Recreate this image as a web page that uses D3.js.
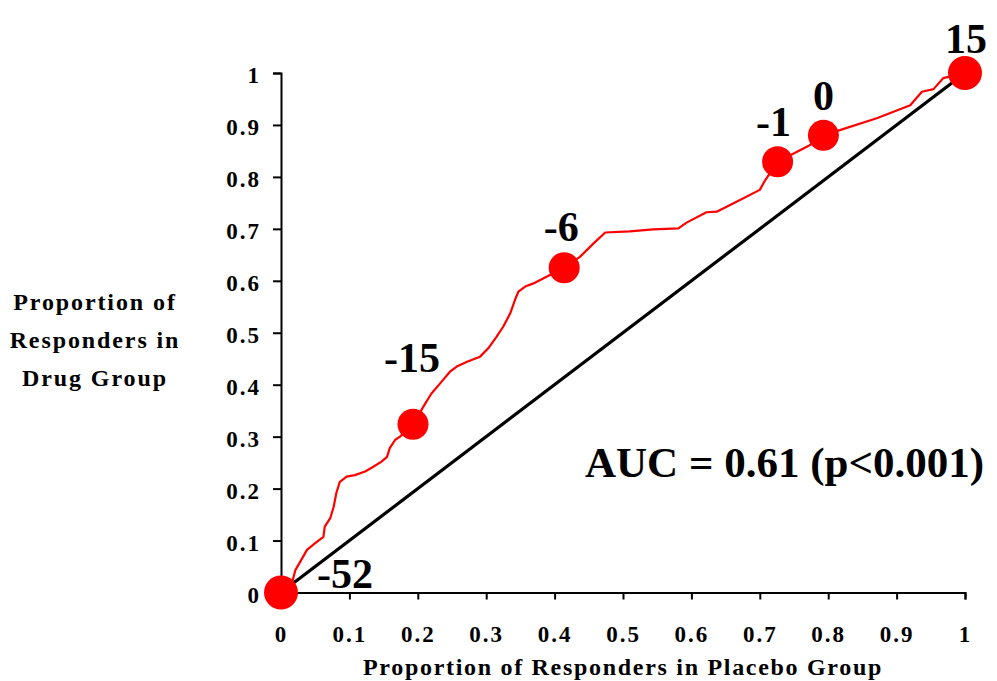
<!DOCTYPE html>
<html><head><meta charset="utf-8">
<script src="https://cdn.jsdelivr.net/npm/d3@7"></script>
<style>body{margin:0;background:#fff} svg{display:block}</style>
</head><body><svg id="chart" width="997" height="681"></svg>
<script>
// ---- data ----
const tickValues = [0, 0.1, 0.2, 0.3, 0.4, 0.5, 0.6, 0.7, 0.8, 0.9, 1];
const tickLabels = ["0", "0.1", "0.2", "0.3", "0.4", "0.5", "0.6", "0.7", "0.8", "0.9", "1"];

// empirical ROC curve (proportion responders placebo vs drug)
const curvePlacebo = [0, 0.016, 0.021, 0.028, 0.038, 0.050, 0.062, 0.064, 0.072, 0.077, 0.081, 0.086, 0.096, 0.108, 0.123, 0.135, 0.147, 0.155, 0.159, 0.167, 0.174, 0.193,
  0.211, 0.220, 0.233, 0.247, 0.257, 0.272, 0.291, 0.303, 0.315, 0.325, 0.335, 0.342, 0.347, 0.357, 0.369, 0.384, 0.414,
  0.437, 0.457, 0.474, 0.510, 0.544, 0.581, 0.593, 0.622, 0.637, 0.666, 0.700, 0.708, 0.726,
  0.773, 0.793, 0.817, 0.871, 0.920, 0.937, 0.954, 0.968, 1];
const curveDrug = [0, 0.018, 0.043, 0.059, 0.082, 0.095, 0.107, 0.127, 0.143, 0.165, 0.192, 0.213, 0.223, 0.226, 0.233, 0.242, 0.252, 0.261, 0.278, 0.294, 0.300, 0.324,
  0.364, 0.383, 0.403, 0.425, 0.435, 0.444, 0.454, 0.470, 0.492, 0.512, 0.537, 0.563, 0.579, 0.589, 0.595, 0.605, 0.625,
  0.646, 0.672, 0.693, 0.695, 0.699, 0.701, 0.712, 0.732, 0.733, 0.752, 0.775, 0.794, 0.829,
  0.861, 0.880, 0.890, 0.913, 0.938, 0.964, 0.969, 0.990, 1];

// highlighted cut-off points
const cutPlacebo = [0, 0.193, 0.414, 0.726, 0.793, 1];
const cutDrug = [0, 0.324, 0.625, 0.829, 0.880, 1];
const cutLabels = ["-52", "-15", "-6", "-1", "0", "15"];

const xTitle = "Proportion of Responders in Placebo Group";
const yTitleLines = ["Proportion of", "Responders in", "Drug Group"];
const aucText = "AUC = 0.61 (p<0.001)";

// ---- drawing ----
const svg = d3.select("#chart");
const FONT = "'Liberation Serif', 'Times New Roman', serif";
const x = d3.scaleLinear().domain([0, 1]).range([281, 965]);
const y = d3.scaleLinear().domain([0, 1]).range([592.5, 73]);

// axes
const xAxis = d3.axisBottom(x).tickValues(tickValues)
  .tickFormat((d, i) => tickLabels[i]).tickSize(7).tickPadding(26);
const yAxis = d3.axisLeft(y).tickValues(tickValues)
  .tickFormat((d, i) => tickLabels[i]).tickSize(8).tickPadding(12);

function styleAxis(g) {
  g.attr("font-family", FONT);
  g.select(".domain").attr("stroke", "#000").attr("stroke-width", 2);
  g.selectAll(".tick line").attr("stroke", "#000").attr("stroke-width", 2);
  g.selectAll(".tick text").attr("font-family", FONT).attr("font-weight", "bold")
    .attr("font-size", 23).attr("fill", "#000").style("letter-spacing", "2px");
}
svg.append("g").attr("transform", `translate(0,${y(0)})`).call(xAxis).call(styleAxis);
const gy = svg.append("g").attr("transform", `translate(${x(0)},0)`).call(yAxis).call(styleAxis);
gy.selectAll(".tick text").attr("dy", "0.42em");

// diagonal reference line
svg.append("line")
  .attr("x1", x(0)).attr("y1", y(0)).attr("x2", x(1)).attr("y2", y(1))
  .attr("stroke", "#000").attr("stroke-width", 3.2);

// ROC curve
const curve = curvePlacebo.map((p, i) => [p, curveDrug[i]]);
svg.append("path").datum(curve)
  .attr("d", d3.line().x(d => x(d[0])).y(d => y(d[1])))
  .attr("fill", "none").attr("stroke", "#ff0000").attr("stroke-width", 2.2)
  .attr("stroke-linejoin", "round");

// markers
const cuts = cutPlacebo.map((p, i) => ({ px: p, dy: cutDrug[i], label: cutLabels[i], i }));
svg.selectAll("circle.cut").data(cuts).enter().append("circle")
  .attr("class", "cut")
  .attr("cx", d => x(d.px)).attr("cy", d => y(d.dy))
  .attr("r", d => (d.i === 0 || d.i === cuts.length - 1) ? 17 : 15.5)
  .attr("fill", "#ff0000");

// marker labels (pixel offsets from each marker)
const labelOffsets = [
  { dx: 36, dy: -5, anchor: "start" },
  { dx: -1, dy: -52, anchor: "middle" },
  { dx: -3, dy: -27, anchor: "middle" },
  { dx: -4, dy: -26, anchor: "middle" },
  { dx: 0, dy: -25, anchor: "middle" },
  { dx: 1, dy: -20, anchor: "middle" }
];
svg.selectAll("text.cutlabel").data(cuts).enter().append("text")
  .attr("class", "cutlabel")
  .attr("x", d => x(d.px) + labelOffsets[d.i].dx)
  .attr("y", d => y(d.dy) + labelOffsets[d.i].dy)
  .attr("text-anchor", d => labelOffsets[d.i].anchor)
  .attr("font-family", FONT).attr("font-weight", "bold").attr("font-size", 42)
  .attr("fill", "#000").text(d => d.label);

// AUC annotation
svg.append("text").attr("x", 585).attr("y", 477)
  .attr("font-family", FONT).attr("font-weight", "bold").attr("font-size", 43)
  .attr("fill", "#000").text(aucText);

// axis titles
svg.append("text").attr("x", (x(0) + x(1)) / 2).attr("y", 675)
  .attr("text-anchor", "middle").attr("font-family", FONT).attr("font-weight", "bold")
  .attr("font-size", 24).style("letter-spacing", "1.7px").attr("fill", "#000").text(xTitle);

svg.append("g").selectAll("text").data(yTitleLines).enter().append("text")
  .attr("x", 95).attr("y", (d, i) => 310 + i * 38)
  .attr("text-anchor", "middle").attr("font-family", FONT).attr("font-weight", "bold")
  .attr("font-size", 24).style("letter-spacing", "1.9px").attr("fill", "#000").text(d => d);
</script></body></html>
